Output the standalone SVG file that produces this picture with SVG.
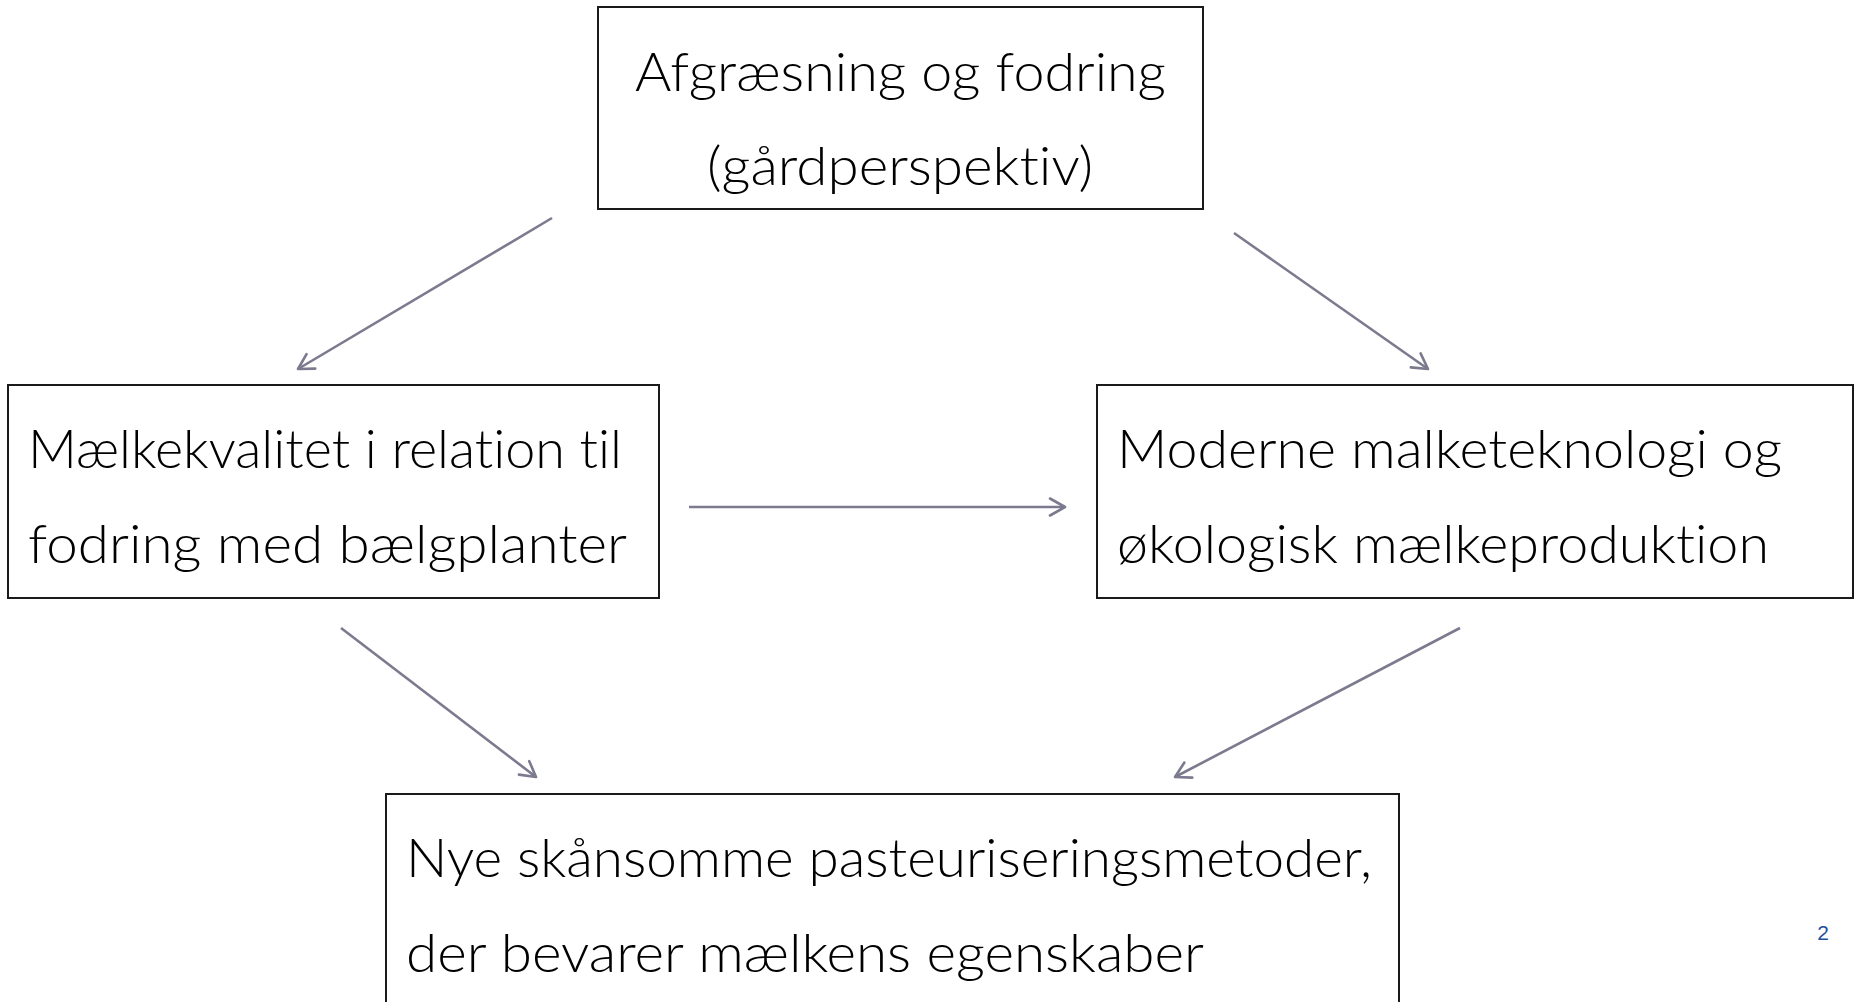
<svg xmlns="http://www.w3.org/2000/svg" width="1858" height="1002" viewBox="0 0 1858 1002">
<style>
.box{fill:#ffffff;stroke:#1a1a1a;stroke-width:2}
.t{font-family:Lato,"Noto Sans","Liberation Sans",sans-serif;font-size:53px;font-weight:300;font-variant-ligatures:none;fill:#000000}
.c{stroke:#7b7a8e;stroke-width:2.6;fill:none;marker-end:url(#ah)}
.pg{font-family:"Liberation Sans",Arial,sans-serif;font-size:21px;fill:#1f4e9a}
</style>
<defs>
<marker id="ah" viewBox="0 0 22 22" refX="20" refY="11" markerWidth="22" markerHeight="22" markerUnits="userSpaceOnUse" orient="auto">
<path d="M5,2.5 L20,11 L5,19.5" fill="none" stroke="#7b7a8e" stroke-width="2.6" stroke-linecap="round" stroke-linejoin="round"/>
</marker>
</defs>
<rect width="1858" height="1002" fill="#ffffff"/>
<g id="connectors">
<line class="c" x1="552" y1="218" x2="298" y2="369"/>
<line class="c" x1="1234" y1="233" x2="1428" y2="369"/>
<line class="c" x1="689" y1="507" x2="1065" y2="507"/>
<line class="c" x1="341" y1="628" x2="536" y2="777"/>
<line class="c" x1="1460" y1="628" x2="1175" y2="777"/>
</g>
<g id="node-top">
<rect class="box" x="598" y="7" width="605" height="202"/>
<text class="t" x="635" y="91" textLength="531" lengthAdjust="spacingAndGlyphs">Afgræsning og fodring</text>
<text class="t" x="707" y="185" textLength="386" lengthAdjust="spacingAndGlyphs">(gårdperspektiv)</text>
</g>
<g id="node-left">
<rect class="box" x="8" y="385" width="651" height="213"/>
<text class="t" x="28" y="468" textLength="594" lengthAdjust="spacingAndGlyphs">Mælkekvalitet i relation til</text>
<text class="t" x="28" y="563" textLength="599" lengthAdjust="spacingAndGlyphs">fodring med bælgplanter</text>
</g>
<g id="node-right">
<rect class="box" x="1097" y="385" width="756" height="213"/>
<text class="t" x="1117" y="468" textLength="665" lengthAdjust="spacingAndGlyphs">Moderne malketeknologi og</text>
<text class="t" x="1117" y="563" textLength="652" lengthAdjust="spacingAndGlyphs">økologisk mælkeproduktion</text>
</g>
<g id="node-bottom">
<rect class="box" x="386" y="794" width="1013" height="230"/>
<text class="t" x="406" y="877" textLength="966" lengthAdjust="spacingAndGlyphs">Nye skånsomme pasteuriseringsmetoder,</text>
<text class="t" x="406" y="972" textLength="798" lengthAdjust="spacingAndGlyphs">der bevarer mælkens egenskaber</text>
</g>
<text class="pg" x="1823" y="940" text-anchor="middle">2</text>
</svg>
